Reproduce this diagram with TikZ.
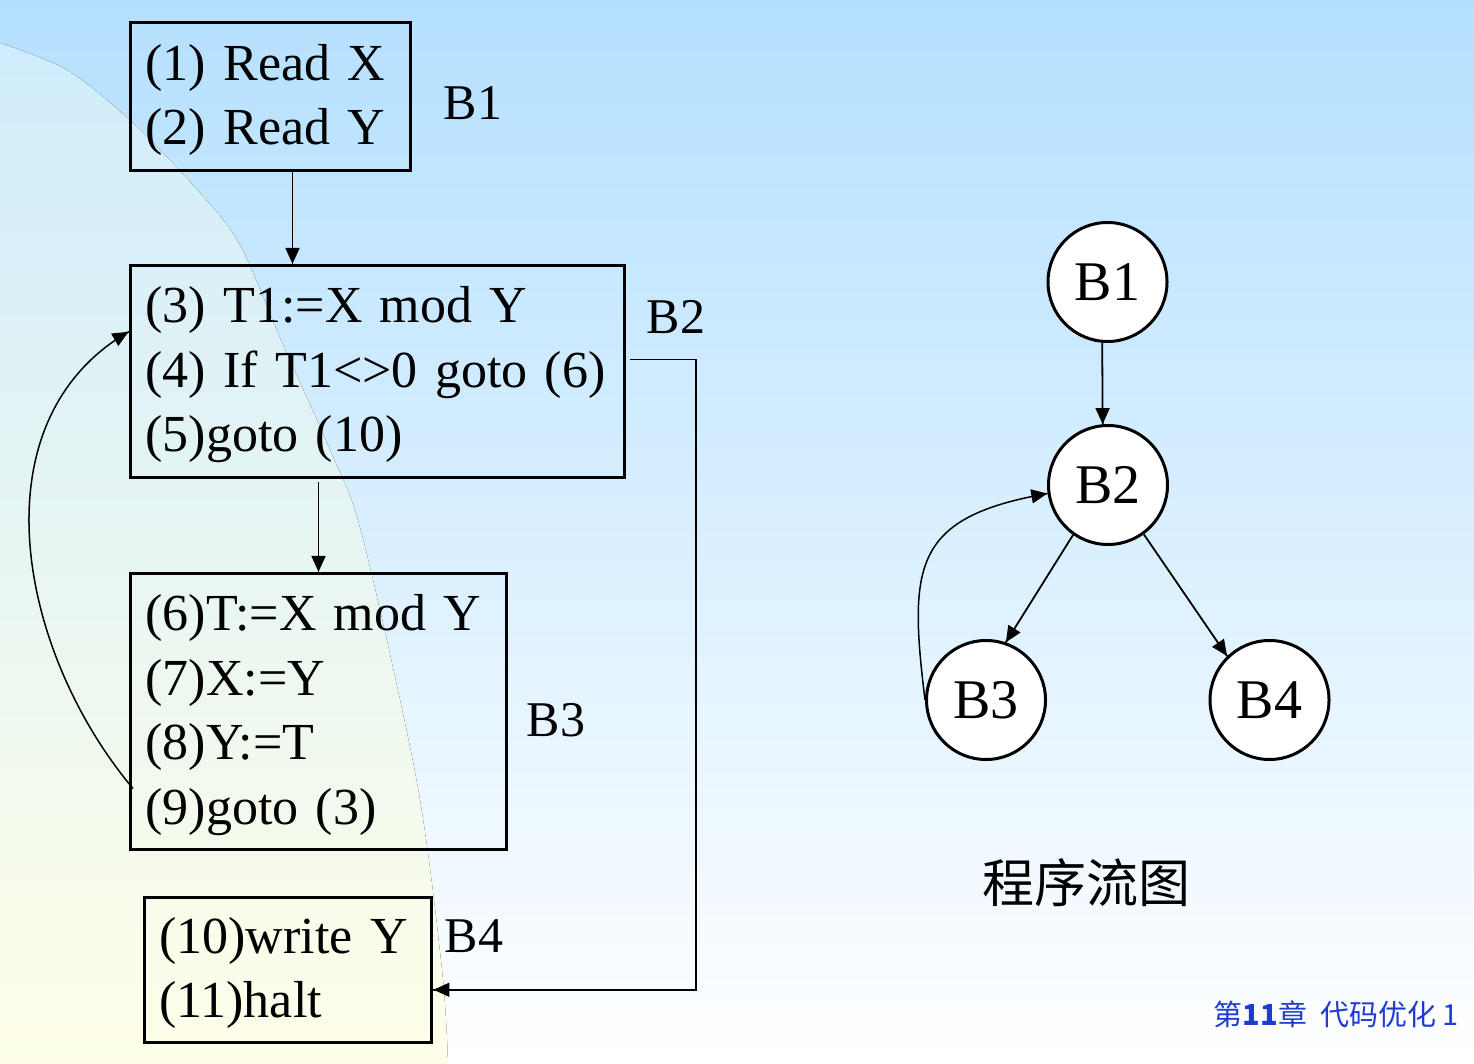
\documentclass[tikz,border=0pt]{standalone}
\usepackage{fontspec}
\setmainfont{Liberation Serif}
\newfontfamily\cjkfont{Noto Sans CJK SC}
\usepackage{tikz}
\usetikzlibrary{arrows.meta}
\usetikzlibrary{decorations.markings}
\newcommand{\codesize}{\fontsize{52}{64.5}\selectfont}
\newcommand{\linestrut}{\rule{0pt}{43pt}}
\tikzset{flow/.style = {decoration={markings,
                                   mark=at position 0.999 with {\arrow{Triangle[length=16pt,width=14pt]}}},
                       postaction={decorate}}}
\tikzset{codebox/.style = {draw, rectangle, line width = 3pt, anchor = north west,
                           align = left, inner xsep = 15pt, inner ysep = 0pt, font = \codesize}}
\tikzset{blocknode/.style = {draw, circle, fill = white, line width = 3pt, minimum size = 119pt,
                             inner sep = 0, font = \fontsize{56}{60}\selectfont}}
\tikzset{blocktag/.style = {anchor = base west, inner sep = 0, font = \fontsize{50}{55}\selectfont}}
\definecolor{skytop}{RGB}{180,224,255}
\definecolor{paletop}{RGB}{208,236,252}
\definecolor{palebot}{RGB}{255,255,232}
\definecolor{footblue}{RGB}{30,60,210}

\begin{document}
\begin{tikzpicture}[x = 1pt, y = -1pt, line width = 1.8pt]
    \useasboundingbox (0, 0) rectangle (1474, 1064);
    % background
    \fill [top color = skytop, bottom color = white] (0, 0) rectangle (1474, 1064);
    \fill [top color = paletop, bottom color = palebot]
        plot [smooth] coordinates {(0, 43) (67, 70) (133, 123) (200, 193) (240, 245) (283, 345)
                                   (330, 450) (362, 535) (417, 783) (442, 970) (448, 1064)}
        -- (0, 1064) -- cycle;

    % basic blocks
    \node [codebox, text width = 250pt, minimum height = 148pt] (b1) at (129, 21)
        {\linestrut(1) Read X\\(2) Read Y};
    \node [codebox, text width = 464pt, minimum height = 212pt] (b2) at (129, 264)
        {\linestrut(3) T1:=X mod Y\\(4) If T1<>0 goto (6)\\(5)goto (10)};
    \node [codebox, text width = 346pt, minimum height = 276pt] (b3) at (129, 572)
        {\linestrut(6)T:=X mod Y\\(7)X:=Y\\(8)Y:=T\\(9)goto (3)};
    \node [codebox, line width = 2.5pt, text width = 257pt, minimum height = 145pt] (b4) at (143, 896)
        {\linestrut(10)write Y\\(11)halt};

    \node [blocktag] (l1) at (443, 120) {B1};
    \node [blocktag] (l2) at (646, 334) {B2};
    \node [blocktag] (l3) at (526, 736) {B3};
    \node [blocktag] (l4) at (444, 952) {B4};

    \coordinate (d12) at ([xshift = 22pt] b1.south);
    \coordinate (d23) at ([xshift = -59pt, yshift = -3pt] b2.south);
    \coordinate (d24) at ([xshift = 4pt, yshift = 12pt] b2.east);
    \draw [flow] (d12) -- (d12 |- b2.north);
    \draw [flow] (d23) -- (d23 |- b3.north);
    \draw [flow] (d24) -- ++(66, 0) |- ([yshift = -20pt] b4.east);
    \draw [flow, line width = 1.5pt] ([xshift = 4pt, yshift = -77pt] b3.west) to [out = 130, in = 210] ([yshift = 40pt] b2.west);

    % flow graph
    \node [blocknode] (c1) at (1107.5, 282) {B1};
    \node [blocknode] (c2) at (1108, 485) {B2};
    \node [blocknode] (c3) at (986, 700) {B3};
    \node [blocknode] (c4) at (1269.5, 700) {B4};

    \draw [flow] (c1.265) -- (c2.95);
    \draw [flow] (c2.235) -- (c3.71);
    \draw [flow] (c2.306) -- (c4.134);
    \draw [flow, line width = 1.5pt] (c3.west) to [out = 97, in = 190, looseness = 1.45] (c2.188);

    \node [inner sep = 0, font = \cjkfont\fontsize{52}{56}\selectfont] (title) at (1086, 883) {程序流图};
    \node [anchor = base west, inner sep = 0, text = footblue, font = \cjkfont\fontsize{29}{32}\selectfont]
        (foot) at (1213, 1025) {第\textbf{11}章~~代码优化 1};
\end{tikzpicture}
\end{document}
